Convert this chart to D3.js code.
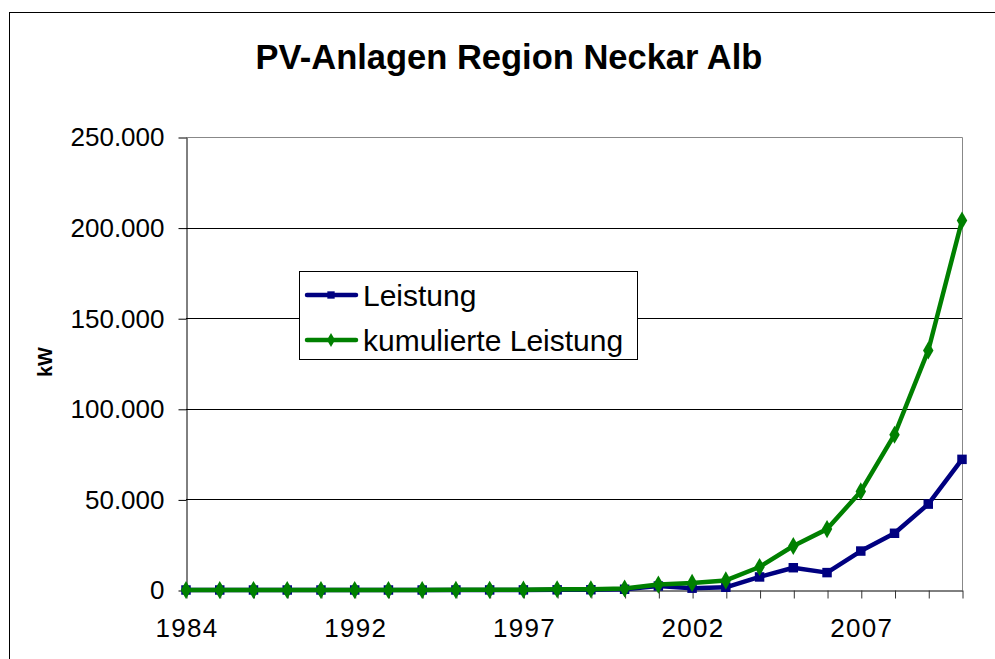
<!DOCTYPE html>
<html>
<head>
<meta charset="utf-8">
<script src="https://cdn.jsdelivr.net/npm/d3@7"></script>
<style>
  body { margin: 0; background: #fff; }
  svg { display: block; font-family: "Liberation Sans", Arial, sans-serif; }
</style>
</head>
<body>
<div id="chart"></div>
<script>
// data (kW)
const years = ["1984", "1988", "1989", "1990", "1991", "1992", "1993", "1994", "1995", "1996", "1997", "1998",
  "1999", "2000", "2001", "2002", "2003", "2004", "2005", "2006", "2007", "2008", "2009", "2010"]
const leistung = [0, 0, 0, 0, 0, 0, 0, 0, 20, 30, 50, 100,
  150, 400, 2200, 1000, 1500, 7200, 12300, 9600, 21500, 31300, 47400, 72100]
const kumuliert = [0, 0, 0, 0, 0, 0, 0, 0, 100, 100, 200, 400,
  400, 800, 3000, 3900, 5300, 12700, 24300, 33600, 54400, 85700, 132200, 203900]
const yTicks = [0, 50000, 100000, 150000, 200000, 250000]

const W = 995, H = 659
const PLOT = { LEFT: 186, RIGHT: 962, TOP: 137, BOTTOM: 590 }

const svg = d3.select("#chart").append("svg")
  .attr("width", W)
  .attr("height", H)

// outer chart frame (runs off the right and bottom edge)
svg.append("rect")
  .attr("x", 9.5).attr("y", 12.5)
  .attr("width", 1000).attr("height", 700)
  .attr("fill", "#fff")
  .attr("stroke", "#000")

const de = d3.formatLocale({ decimal: ",", thousands: ".", grouping: [3], currency: ["", " €"] })
const fmt = de.format(",")

// Scales
const x = d3.scalePoint()
  .domain(years)
  .range([PLOT.LEFT, PLOT.RIGHT])
const y = d3.scaleLinear()
  .domain([0, 250000])
  .range([PLOT.BOTTOM, PLOT.TOP])

// Gridlines
svg.append("g")
  .selectAll("line")
  .data(yTicks.filter(d => d > 0 && d < 250000))
  .join("line")
    .attr("x1", PLOT.LEFT).attr("x2", PLOT.RIGHT)
    .attr("y1", d => Math.round(y(d)) + 0.5)
    .attr("y2", d => Math.round(y(d)) + 0.5)
    .attr("stroke", "#000")

// plot border top / right (gray)
svg.append("path")
  .attr("d", `M${PLOT.LEFT},${Math.round(y(250000)) + 0.5}H${PLOT.RIGHT + 0.5}V${PLOT.BOTTOM}`)
  .attr("fill", "none")
  .attr("stroke", "#888")

// Y Axis
const yAxis = svg.append("g")
  .attr("transform", `translate(${PLOT.LEFT + 0.5}, 0.5)`)
  .call(d3.axisLeft(y).tickValues(yTicks).tickFormat(fmt).tickSize(8).tickSizeOuter(0).tickPadding(14))
yAxis.selectAll("text").attr("font-size", "26px").attr("fill", "#000")
yAxis.select(".domain").attr("stroke", "#000")
yAxis.selectAll(".tick line").attr("stroke", "#000")

// X Axis
const xAxis = svg.append("g")
  .attr("transform", `translate(0.5, ${PLOT.BOTTOM + 0.5})`)
  .call(d3.axisBottom(x).tickSize(8).tickSizeOuter(0).tickPadding(20)
    .tickFormat((d, i) => i % 5 === 0 ? d : ""))
xAxis.selectAll("text")
  .attr("font-size", "26px")
  .attr("letter-spacing", "1.3px")
  .attr("fill", "#000")
xAxis.select(".domain").attr("stroke", "#000")
xAxis.selectAll(".tick line").attr("stroke", "#333")

// Title and axis label
svg.append("text")
  .attr("x", 509).attr("y", 69)
  .attr("text-anchor", "middle")
  .attr("font-size", "34.5px")
  .attr("font-weight", "bold")
  .text("PV-Anlagen Region Neckar Alb")

svg.append("text")
  .attr("transform", "translate(52, 362) rotate(-90)")
  .attr("text-anchor", "middle")
  .attr("font-size", "20px")
  .attr("font-weight", "bold")
  .text("kW")

// Series
const series = [
  { name: "Leistung", values: leistung, color: "#000080", marker: d3.symbolSquare, size: 90 },
  { name: "kumulierte Leistung", values: kumuliert, color: "#008000", marker: d3.symbolDiamond, size: 95 }
]

const line = d3.line()
  .x((d, i) => x(years[i]))
  .y(d => y(d))

series.forEach(s => {
  svg.append("path")
    .datum(s.values)
    .attr("d", line)
    .attr("fill", "none")
    .attr("stroke", s.color)
    .attr("stroke-width", 4.5)
    .attr("stroke-linejoin", "round")

  svg.append("g")
    .selectAll("path")
    .data(s.values)
    .join("path")
      .attr("transform", (d, i) => `translate(${x(years[i])}, ${y(d)})`)
      .attr("d", d3.symbol(s.marker, s.size))
      .attr("fill", s.color)
})

// Legend
const legend = svg.append("g")
legend.append("rect")
  .attr("x", 299.5).attr("y", 271.5)
  .attr("width", 338).attr("height", 88)
  .attr("fill", "#fff")
  .attr("stroke", "#000")

series.forEach((s, i) => {
  const ly = 295 + i * 45
  const row = legend.append("g")
  row.append("line")
    .attr("x1", 307).attr("x2", 356)
    .attr("y1", ly).attr("y2", ly)
    .attr("stroke", s.color)
    .attr("stroke-width", 4.5)
    .attr("stroke-linecap", "round")
  row.append("path")
    .attr("transform", `translate(331, ${ly})`)
    .attr("d", d3.symbol(s.marker, s.size * 0.6))
    .attr("fill", s.color)
  row.append("text")
    .attr("x", 363).attr("y", ly + 11)
    .attr("font-size", "30px")
    .text(s.name)
})
</script>
</body>
</html>
